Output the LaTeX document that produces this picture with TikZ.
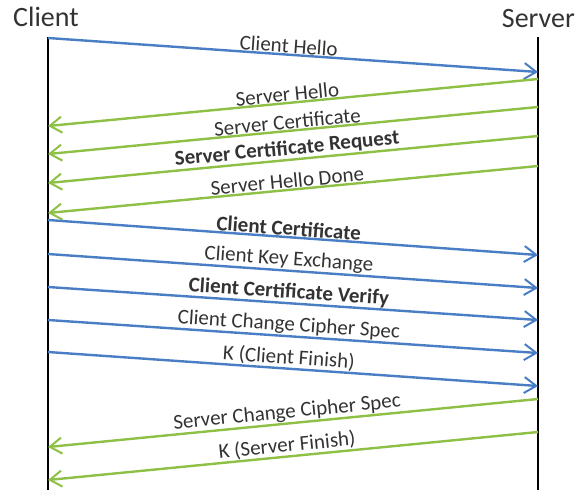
\documentclass[tikz,border=0pt]{standalone}
\usepackage{fontspec}
\setmainfont{Carlito}
\usetikzlibrary{arrows.meta}
\definecolor{cblue}{HTML}{4A7EC4}
\definecolor{sgreen}{HTML}{8DC045}
\definecolor{txt}{HTML}{333333}
\tikzset{
  life/.style={line width=2.6pt, black},
  cmsg/.style={line width=2.4pt, cblue, -{Straight Barb[length=12pt,width=16pt,line width=2pt]}},
  smsg/.style={line width=2.4pt, sgreen, -{Straight Barb[length=12pt,width=16pt,line width=2pt]}},
  lbl/.style={sloped, anchor=south, inner sep=0.5pt, text=txt, font=\fontsize{21}{23}\selectfont},
  blbl/.style={lbl, font=\fontsize{21}{23}\selectfont\bfseries},
  title/.style={inner sep=0pt, text=txt, font=\fontsize{28}{30}\selectfont}
}
\begin{document}
\begin{tikzpicture}[x=1pt,y=-1pt]
\useasboundingbox (0,0) rectangle (575,490);
\node[title, anchor=base west] (client) at (13,26) {Client};
\node[title, anchor=base east] (server) at (575,27) {Server};
\coordinate (ctop) at (48,37);
\coordinate (cbot) at (48,490);
\coordinate (stop) at (538,37);
\coordinate (sbot) at (538,490);
\draw[life] (ctop) -- (cbot);
\draw[life] (stop) -- (sbot);
% client -> server
\coordinate (c1) at (48,38);   \coordinate (s1) at (538,72);
\coordinate (c6) at (48,220);  \coordinate (s6) at (538,255);
\coordinate (c7) at (48,254);  \coordinate (s7) at (538,288);
\coordinate (c8) at (48,287);  \coordinate (s8) at (538,320);
\coordinate (c9) at (48,320);  \coordinate (s9) at (538,353);
\coordinate (c10) at (48,352); \coordinate (s10) at (538,386);
% server -> client
\coordinate (s2) at (538,79);  \coordinate (c2) at (48,126);
\coordinate (s3) at (538,107); \coordinate (c3) at (48,154);
\coordinate (s4) at (538,136); \coordinate (c4) at (48,183);
\coordinate (s5) at (538,166); \coordinate (c5) at (48,213);
\coordinate (s11) at (538,399); \coordinate (c11) at (48,447);
\coordinate (s12) at (538,432); \coordinate (c12) at (48,480);
\draw[cmsg] (c1) -- node[lbl, pos=0.49] {Client Hello} (s1);
\draw[smsg] (s2) -- node[lbl, pos=0.51] {Server Hello} (c2);
\draw[smsg] (s3) -- node[lbl, pos=0.51] {Server Certificate} (c3);
\draw[smsg] (s4) -- node[blbl, pos=0.51] {Server Certificate Request} (c4);
\draw[smsg] (s5) -- node[lbl, pos=0.51] {Server Hello Done} (c5);
\draw[cmsg] (c6) -- node[blbl, pos=0.49] {Client Certificate} (s6);
\draw[cmsg] (c7) -- node[lbl, pos=0.49] {Client Key Exchange} (s7);
\draw[cmsg] (c8) -- node[blbl, pos=0.49] {Client Certificate Verify} (s8);
\draw[cmsg] (c9) -- node[lbl, pos=0.49] {Client Change Cipher Spec} (s9);
\draw[cmsg] (c10) -- node[lbl, pos=0.49] {K (Client Finish)} (s10);
\draw[smsg] (s11) -- node[lbl, pos=0.51] {Server Change Cipher Spec} (c11);
\draw[smsg] (s12) -- node[lbl, pos=0.51] {K (Server Finish)} (c12);
\end{tikzpicture}
\end{document}
